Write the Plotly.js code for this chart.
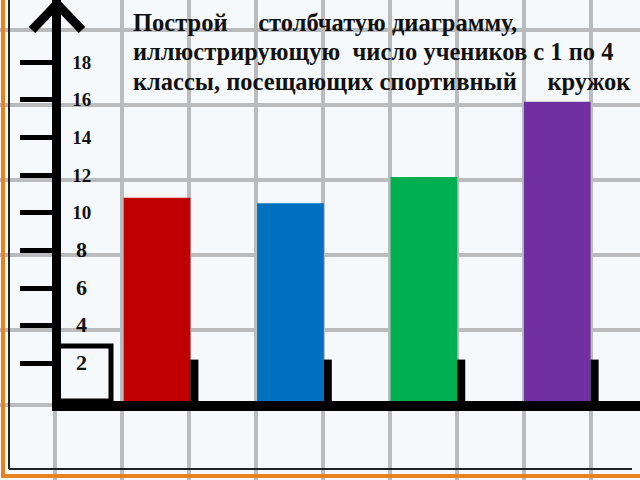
<!DOCTYPE html>
<html>
<head>
<meta charset="utf-8">
<script src="https://cdn.plot.ly/plotly-3.0.1.min.js"></script>
<style>
  html, body { margin: 0; padding: 0; background: #f5f9fc; }
  #chart { width: 640px; height: 480px; }
</style>
</head>
<body>
<div id="chart"></div>
<script>
const grades = ['1 класс', '2 класс', '3 класс', '4 класс'];
const pupils = [10.8, 10.5, 11.9, 15.9];
const barColors = ['#c00000', '#0070c0', '#00b050', '#7030a0'];
const tickValues = [2, 4, 6, 8, 10, 12, 14, 16, 18];
const tickLabels = ['2', '4', '6', '8', '10', '12', '14', '16', '18'];
const titleLines = [
  'Построй\u00a0\u00a0\u00a0\u00a0\u00a0столбчатую диаграмму,',
  'иллюстрирующую\u00a0 число учеников с 1 по 4',
  'классы, посещающих спортивный\u00a0\u00a0\u00a0\u00a0\u00a0кружок',
];

const black = '#000';
const orange = '#e8821e';
const serif = 'Liberation Serif, Times New Roman, serif';

// one-digit labels are drawn a bit bigger and further right on the slide
const tickText = tickLabels.map(t => t.length > 1 ? t :
  '\u2009<span style="font-size:22px">' + t + '</span>');

// little black stubs standing right of every bar
const stubs = grades.map((g, i) => ({
  type: 'rect', xref: 'x2', yref: 'y2',
  x0: i + 0.25, x1: i + 0.31, y0: 0, y1: 2.2,
  fillcolor: black, line: {width: 0},
}));

// decoration drawn on the full-page "paper" axes (pixel units)
const decor = [
  {type: 'path', xref: 'x', yref: 'y', path: 'M32,30 L57,4 L82,30',
    line: {color: black, width: 9}},
  {type: 'rect', xref: 'x', yref: 'y', x0: 58, x1: 111, y0: 346, y1: 401,
    line: {color: black, width: 5}},
  {type: 'line', xref: 'x', yref: 'y', x0: 3, x1: 3, y0: 0, y1: 477,
    line: {color: orange, width: 4}},
  {type: 'line', xref: 'x', yref: 'y', x0: 9, x1: 9, y0: 0, y1: 469,
    line: {color: '#222', width: 2}},
  {type: 'line', xref: 'x', yref: 'y', x0: 1, x1: 640, y0: 476, y1: 476,
    line: {color: orange, width: 4}},
  {type: 'line', xref: 'x', yref: 'y', x0: 9, x1: 632, y0: 469, y1: 469,
    line: {color: '#222', width: 2}},
];

const titleNotes = titleLines.map((t, i) => ({
  xref: 'x', yref: 'y', x: 131, y: 22 + i * 29.5,
  xanchor: 'left', yanchor: 'middle', showarrow: false, align: 'left',
  text: '<b>' + t + '</b>',
  font: {family: serif, size: 24.5, color: '#111'},
}));

Plotly.newPlot('chart', [{
  // empty trace so the grid-paper subplot exists
  x: [], y: [], type: 'scatter', xaxis: 'x', yaxis: 'y',
  hoverinfo: 'skip', showlegend: false,
}, {
  x: grades,
  y: pupils,
  type: 'bar',
  xaxis: 'x2',
  yaxis: 'y2',
  width: 0.5,
  marker: {color: barColors},
  hoverinfo: 'x+y',
}], {
  width: 640,
  height: 480,
  margin: {l: 0, r: 0, t: 0, b: 0},
  paper_bgcolor: '#f5f9fc',
  plot_bgcolor: 'rgba(0,0,0,0)',
  showlegend: false,
  xaxis: {
    domain: [0, 1], range: [0, 640], fixedrange: true,
    tick0: 55, dtick: 67, showgrid: true, gridcolor: '#b9bbbd', gridwidth: 4,
    showticklabels: false, zeroline: false, ticks: '',
  },
  yaxis: {
    domain: [0, 1], range: [480, 0], fixedrange: true,
    tick0: 30, dtick: 75, showgrid: true, gridcolor: '#b9bbbd', gridwidth: 4,
    showticklabels: false, zeroline: false, ticks: '',
  },
  xaxis2: {
    anchor: 'y2',
    domain: [61 / 640, 1],
    range: [-0.72, 3.62],
    type: 'category',
    showgrid: false,
    showticklabels: false,
    ticks: '',
    showline: true,
    linecolor: black,
    linewidth: 10,
    zeroline: false,
    fixedrange: true,
  },
  yaxis2: {
    anchor: 'x2',
    domain: [79 / 480, 1],
    range: [0, 21.3],
    showgrid: false,
    zeroline: false,
    showline: true,
    linecolor: black,
    linewidth: 9,
    ticks: 'outside',
    ticklen: 32,
    tickwidth: 5,
    tickcolor: black,
    tickvals: tickValues,
    ticktext: tickText,
    ticklabelposition: 'inside',
    ticklabelstandoff: 12,
    tickfont: {family: serif, size: 19, color: '#111', weight: 'bold'},
    fixedrange: true,
  },
  shapes: decor.concat(stubs),
  annotations: titleNotes,
}, {displayModeBar: false, staticPlot: true});
</script>
</body>
</html>
